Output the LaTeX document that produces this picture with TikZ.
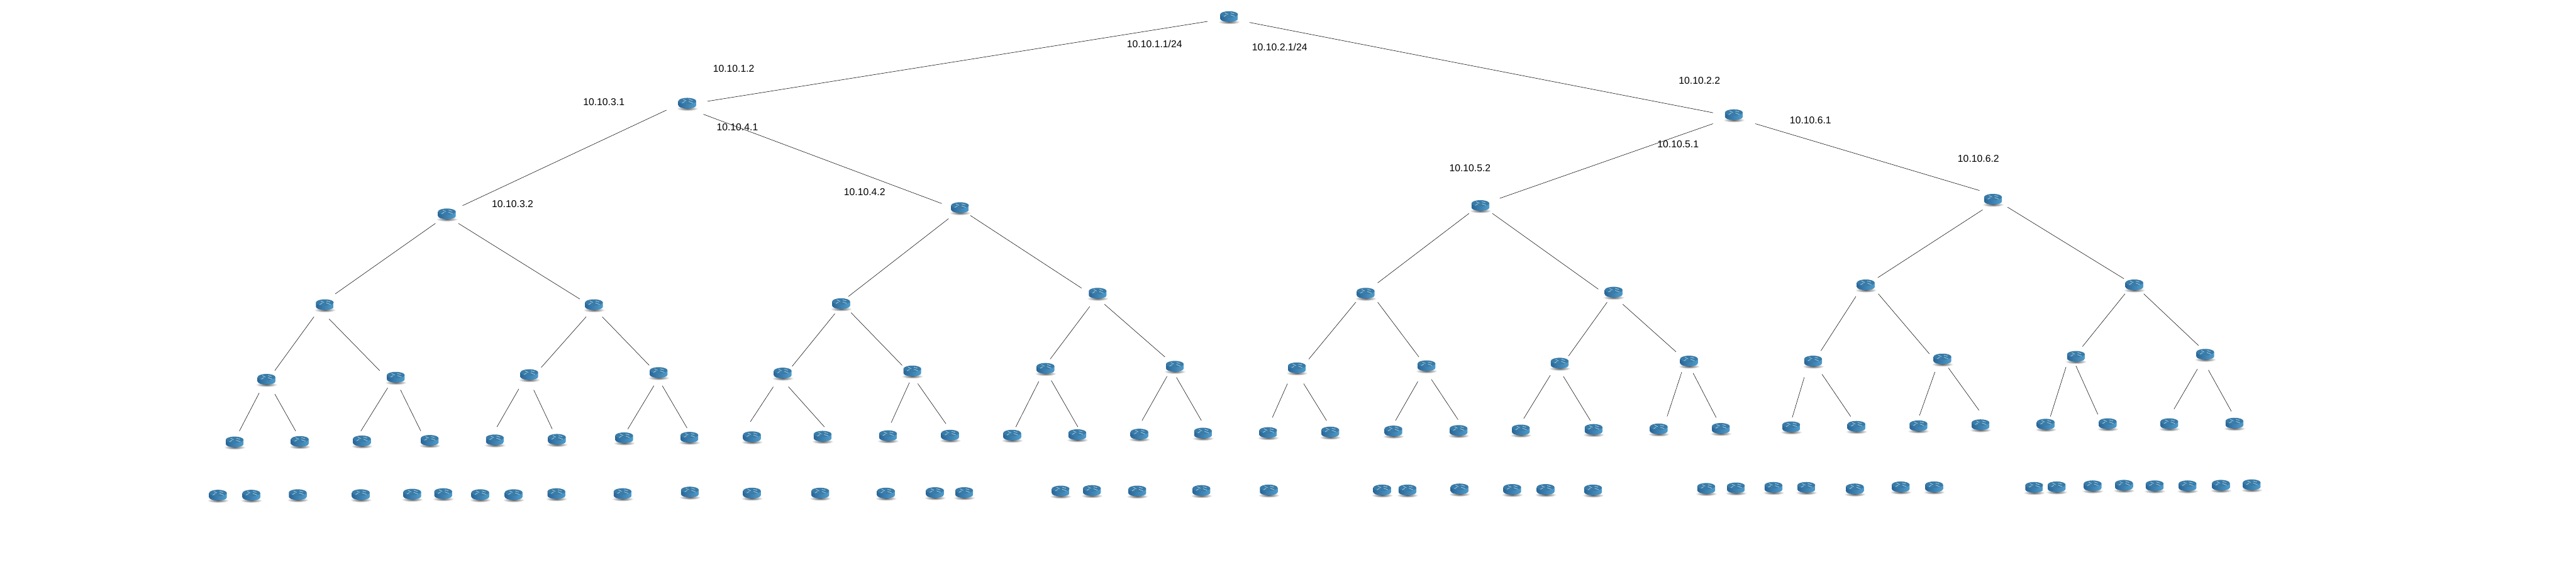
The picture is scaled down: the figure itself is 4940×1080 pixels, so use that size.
\documentclass[tikz,border=0pt]{standalone}
\usepackage{fontspec}
\setmainfont{Liberation Sans}
\definecolor{rleft}{HTML}{2A6698}
\definecolor{rright}{HTML}{4F9DCC}
\definecolor{rtop}{HTML}{3A7BA7}
\definecolor{rmark}{HTML}{B5DBEF}
\tikzset{
  routernode/.style={inner sep=0pt,minimum width=17pt,minimum height=11pt},
  iplabel/.style={inner sep=0pt,font=\fontsize{9.5pt}{11pt}\selectfont,text=black},
  link/.style={draw=black,line width=0.32pt},
  routericon/.pic={
    \shade[inner color=black!65,outer color=white] (0,10) ellipse [x radius=10.5pt,y radius=2.2pt];
    \shade[left color=rleft,right color=rright]
      (-17,-4.5) -- (-17,4) arc[start angle=180,end angle=360,x radius=8.5pt,y radius=3pt] -- (17,-4.5) -- cycle;
    \fill[rtop] (0,-4.5) ellipse [x radius=8.5pt,y radius=3pt];
    \draw[rmark,line width=0.4pt]
      (-8,-7.5) -- (-2,-4.5) (-10,-0.5) -- (-5,-3.5) (3,-7.5) -- (10,-5.5) (3,-3.5) -- (11,-0.5);
  }
}
\newcommand\rt[3]{\node[routernode] (#1) at (#2,#3) {}; \pic at (#1.center) {routericon};}
\newcommand\lnk[6]{\draw[link] ([shift={(#3,#4)}]#1.center) -- ([shift={(#5,#6)}]#2.center);}
\newcommand\iplab[4]{\node[iplabel] (#1) at (#2,#3) {#4};}
\begin{document}
\begin{tikzpicture}[x=0.5pt,y=-0.5pt]
\useasboundingbox (0,0) rectangle (4940,1080);
\fill[white] (0,0) rectangle (4940,1080);
% routers
\rt{root}{2357}{32}
\rt{a}{1318}{198} \rt{b}{3325}{220}
\rt{c1}{857}{410} \rt{c2}{1841}{398} \rt{c3}{2839}{394} \rt{c4}{3822}{382}
\rt{d1}{623}{584} \rt{d2}{1139}{584} \rt{d3}{1613}{582} \rt{d4}{2105}{562}
\rt{d5}{2619}{562} \rt{d6}{3094.5}{560} \rt{d7}{3578}{546} \rt{d8}{4093}{546}
\rt{e1}{511}{727} \rt{e2}{759}{723} \rt{e3}{1015}{718} \rt{e4}{1263}{714}
\rt{e5}{1501}{715} \rt{e6}{1749.5}{711} \rt{e7}{2005}{706} \rt{e8}{2253}{702}
\rt{e9}{2487}{705} \rt{e10}{2735.5}{701} \rt{e11}{2991}{696} \rt{e12}{3239}{692}
\rt{e13}{3477}{692} \rt{e14}{3725}{688} \rt{e15}{3981}{683} \rt{e16}{4229}{679}
\rt{f1}{450}{847} \rt{f2}{575}{846} \rt{f3}{694}{845} \rt{f4}{824}{844}
\rt{f5}{949}{843} \rt{f6}{1068}{842} \rt{f7}{1197}{839} \rt{f8}{1322}{838}
\rt{f9}{1442}{837} \rt{f10}{1577.5}{836} \rt{f11}{1703}{835} \rt{f12}{1822}{834}
\rt{f13}{1941}{834} \rt{f14}{2066}{833} \rt{f15}{2185}{832} \rt{f16}{2307}{830}
\rt{f17}{2432}{829} \rt{f18}{2551}{828} \rt{f19}{2672}{826} \rt{f20}{2797}{825}
\rt{f21}{2916.5}{824} \rt{f22}{3056}{823} \rt{f23}{3181}{822} \rt{f24}{3300}{821}
\rt{f25}{3435}{818} \rt{f26}{3560}{817} \rt{f27}{3679}{816} \rt{f28}{3798}{814}
\rt{f29}{3923}{813} \rt{f30}{4042}{812} \rt{f31}{4160}{812} \rt{f32}{4285}{811}
% bottom row
\rt{g1}{418}{949} \rt{g2}{482}{949} \rt{g3}{571}{948} \rt{g4}{692}{948}
\rt{g5}{790.5}{947} \rt{g6}{850}{946} \rt{g7}{921}{948} \rt{g8}{985}{948}
\rt{g9}{1067}{946} \rt{g10}{1194}{946} \rt{g11}{1323}{943} \rt{g12}{1442}{945}
\rt{g13}{1573}{945} \rt{g14}{1699}{945} \rt{g15}{1793}{944} \rt{g16}{1849}{944}
\rt{g17}{2034}{941} \rt{g18}{2094}{940} \rt{g19}{2181}{941} \rt{g20}{2304}{940}
\rt{g21}{2433}{939} \rt{g22}{2650.5}{939} \rt{g23}{2699}{939} \rt{g24}{2799}{937}
\rt{g25}{2900}{938} \rt{g26}{2964}{938} \rt{g27}{3055}{939} \rt{g28}{3272}{936}
\rt{g29}{3329}{935} \rt{g30}{3401}{934} \rt{g31}{3464}{934} \rt{g32}{3557}{937}
\rt{g33}{3645}{933} \rt{g34}{3709}{933} \rt{g35}{3901}{934} \rt{g36}{3944}{933}
\rt{g37}{4013}{931} \rt{g38}{4073}{930} \rt{g39}{4132}{931} \rt{g40}{4195}{931}
\rt{g41}{4259}{930} \rt{g42}{4318}{929}
% links
\lnk{root}{a}{-41}{9}{39}{-4}
\lnk{root}{b}{39}{11}{-40}{-4}
\lnk{a}{c1}{-40}{13}{30}{-16}
\lnk{a}{c2}{31}{21}{-35}{-8}
\lnk{b}{c3}{-40}{17}{37}{-14}
\lnk{b}{c4}{41}{17}{-26}{-17}
\lnk{c1}{d1}{-22}{18}{20}{-21}
\lnk{c1}{d2}{22}{18}{-27}{-11}
\lnk{c2}{d3}{-22}{21}{14}{-14}
\lnk{c2}{d4}{20}{15}{-31}{-10}
\lnk{c3}{d5}{-22}{15}{23}{-20}
\lnk{c3}{d6}{23}{15}{-29.5}{-6}
\lnk{c4}{d7}{-20}{20}{23}{-14}
\lnk{c4}{d8}{28}{15}{-20}{-12}
\lnk{d1}{e1}{-21}{23}{16}{-17}
\lnk{d1}{e2}{8}{27}{-31}{-13}
\lnk{d2}{e3}{-15}{23}{23}{-14}
\lnk{d2}{e4}{16}{23}{-18}{-14}
\lnk{d3}{e5}{-12}{19}{18}{-13}
\lnk{d3}{e6}{19}{17}{-19.5}{-11}
\lnk{d4}{e7}{-15}{25}{9}{-18}
\lnk{d4}{e8}{13}{21}{-19}{-18}
\lnk{d5}{e9}{-19}{17}{23}{-17}
\lnk{d5}{e10}{23}{17}{-14.5}{-17}
\lnk{d6}{e11}{-12.5}{19}{17}{-14}
\lnk{d6}{e12}{17.5}{23}{-25}{-18}
\lnk{d7}{e13}{-19}{22}{15}{-20}
\lnk{d7}{e14}{24}{17}{-25}{-10}
\lnk{d8}{e15}{-18}{17}{12.5}{-19}
\lnk{d8}{e16}{18}{17}{-13}{-17}
\lnk{e1}{f1}{-14}{26}{9}{-21}
\lnk{e1}{f2}{16}{28}{-8}{-20}
\lnk{e2}{f3}{-15.5}{20}{-2}{-19}
\lnk{e2}{f4}{9}{24}{-17}{-18}
\lnk{e3}{f5}{-20}{27}{4}{-25}
\lnk{e3}{f6}{8.5}{29}{-9}{-20}
\lnk{e4}{f7}{-9}{25}{7}{-17}
\lnk{e4}{f8}{7}{25}{-4.5}{-18}
\lnk{e5}{f9}{-18}{26}{-3}{-29}
\lnk{e5}{f10}{11}{26}{3.5}{-18}
\lnk{e6}{f11}{-5.5}{22}{6}{-25}
\lnk{e6}{f12}{10.5}{24}{-8}{-22}
\lnk{e7}{f13}{-13}{25}{7}{-16}
\lnk{e7}{f14}{11}{23}{1}{-15}
\lnk{e8}{f15}{-15}{19}{5}{-26}
\lnk{e8}{f16}{3}{21}{-3}{-24}
\lnk{e9}{f17}{-18}{30}{8}{-29}
\lnk{e9}{f18}{13}{30}{-7}{-22}
\lnk{e10}{f19}{-16.5}{30}{4}{-20}
\lnk{e10}{f20}{9.5}{26}{-1}{-21}
\lnk{e11}{f21}{-18}{23}{5.5}{-22}
\lnk{e11}{f22}{7}{25}{-6}{-17}
\lnk{e12}{f23}{-14}{21}{16}{-24}
\lnk{e12}{f24}{8}{23}{-9}{-21}
\lnk{e13}{f25}{-17}{31}{2}{-18}
\lnk{e13}{f26}{17}{25}{-11}{-19}
\lnk{e14}{f27}{-14.5}{25}{2}{-20}
\lnk{e14}{f28}{11.5}{17}{-3}{-28}
\lnk{e15}{f29}{-19}{20}{9}{-15}
\lnk{e15}{f30}{0}{18}{-19}{-18}
\lnk{e16}{f31}{-15}{28}{9}{-28}
\lnk{e16}{f32}{6}{30}{-6}{-23}
% labels
\iplab{l11}{2214}{84}{10.10.1.1/24}
\iplab{l21}{2454}{90}{10.10.2.1/24}
\iplab{l12}{1407}{132}{10.10.1.2}
\iplab{l31}{1158}{196}{10.10.3.1}
\iplab{l41}{1414}{244}{10.10.4.1}
\iplab{l42}{1658}{368}{10.10.4.2}
\iplab{l32}{983}{391}{10.10.3.2}
\iplab{l22}{3259}{154}{10.10.2.2}
\iplab{l61}{3472}{230}{10.10.6.1}
\iplab{l51}{3218}{276}{10.10.5.1}
\iplab{l62}{3794}{304}{10.10.6.2}
\iplab{l52}{2819}{322}{10.10.5.2}
\end{tikzpicture}
\end{document}
